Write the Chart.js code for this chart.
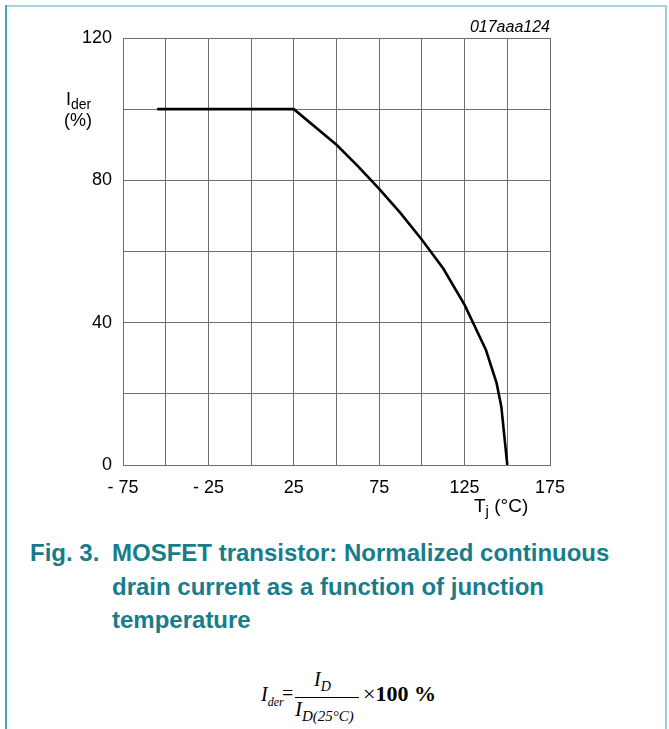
<!DOCTYPE html>
<html><head><meta charset="utf-8">
<script src="https://cdn.jsdelivr.net/npm/chart.js@4/dist/chart.umd.min.js"></script>
<style>
html,body{margin:0;padding:0;background:#fff;}
#page{position:relative;width:669px;height:729px;overflow:hidden;font-family:"Liberation Sans",Arial,sans-serif;color:#000;}
#chartbox{position:absolute;left:0;top:0;width:669px;height:500px;}
.abs{position:absolute;white-space:nowrap;line-height:1;}
.bar{position:absolute;}
.cap{position:absolute;white-space:nowrap;line-height:1;font-weight:bold;font-size:24px;color:#177d8b;}
.ser{font-family:"Liberation Serif","Times New Roman",serif;}
</style>
</head><body>
<div id="page">
  <div class="bar" style="left:5px;top:5px;width:662px;height:2px;background:#a6d5d9;"></div>
  <div class="bar" style="left:5px;top:5px;width:2px;height:724px;background:#4aa6b0;"></div>
  <div class="bar" style="left:665px;top:5px;width:2px;height:724px;background:#9ccfd3;"></div>
  <div id="chartbox"><canvas id="c"></canvas></div>

  <div class="abs" style="right:119px;top:19px;font-size:16px;font-style:italic;">017aaa124</div>
  <div class="abs" style="left:66px;top:90px;font-size:18px;">I<span style="font-size:14px;position:relative;top:4px;">der</span></div>
  <div class="abs" style="left:64px;top:111px;font-size:18px;">(%)</div>
  <div class="abs" style="left:474px;top:496px;font-size:19px;">T<span style="font-size:15px;position:relative;top:4px;">j</span> (°C)</div>

  <div class="cap" style="left:30px;top:541px;">Fig. 3.</div>
  <div class="cap" style="left:112px;top:541px;">MOSFET transistor: Normalized continuous</div>
  <div class="cap" style="left:112px;top:575px;">drain current as a function of junction</div>
  <div class="cap" style="left:112px;top:608px;">temperature</div>

  <div class="abs ser" style="left:261px;top:684px;font-size:20px;font-style:italic;">I<span style="font-size:12px;position:relative;top:5px;">der</span></div>
  <div class="abs ser" style="left:282px;top:683px;font-size:20px;">=</div>
  <div class="abs ser" style="left:314px;top:669px;font-size:20px;font-style:italic;">I<span style="font-size:14px;position:relative;top:5px;">D</span></div>
  <div class="bar" style="left:295px;top:697px;width:64px;height:1px;background:#000;"></div>
  <div class="abs ser" style="left:295px;top:699px;font-size:21px;font-style:italic;">I<span style="font-size:15px;position:relative;top:5px;">D(25°C)</span></div>
  <div class="abs ser" style="left:363px;top:683px;font-size:22px;">×<b>100 %</b></div>
</div>
<script>
const tempC   = [-55, 25, 50, 62.5, 75, 87.5, 100, 112.5, 125, 137.5, 143.75, 146.5, 150];
const iderPct = [100, 100, 90, 84, 77.6, 70.8, 63.3, 55.2, 45, 32.3, 23, 16.4, 0];
const xTickValues = [-75, -25, 25, 75, 125, 175];
const xTickLabels = ['- 75', '- 25', '25', '75', '125', '175'];
const yTickValues = [0, 40, 80, 120];
const yTickLabels = ['0', '40', '80', '120'];

const pts = tempC.map((t, i) => ({x: t, y: iderPct[i]}));
const gridCol = '#6e6e6e';
const tickFont = {family: '"Liberation Sans", Arial, sans-serif', size: 18};

new Chart(document.getElementById('c'), {
  type: 'line',
  data: {datasets: [{data: pts, borderColor: '#000', borderWidth: 2.6, pointRadius: 0, tension: 0, fill: false}]},
  options: {
    responsive: true, maintainAspectRatio: false, animation: false,
    layout: {padding: {left: 0, top: 38, right: 119, bottom: 0}},
    plugins: {legend: {display: false}, tooltip: {enabled: false}},
    scales: {
      x: {
        type: 'linear', min: -75, max: 175,
        afterFit: s => { s.height = 35; },
        ticks: {stepSize: 25, autoSkip: false, maxRotation: 0, color: '#000', font: tickFont, padding: 12,
          callback: v => { const i = xTickValues.indexOf(v); return i >= 0 ? xTickLabels[i] : ''; }},
        grid: {color: gridCol, lineWidth: 1, drawTicks: false},
        border: {color: gridCol, width: 1}
      },
      y: {
        min: 0, max: 120,
        afterFit: s => { s.width = 123; },
        ticks: {stepSize: 20, autoSkip: false, color: '#000', font: tickFont, padding: 11,
          callback: v => { const i = yTickValues.indexOf(v); return i >= 0 ? yTickLabels[i] : ''; }},
        grid: {color: gridCol, lineWidth: 1, drawTicks: false},
        border: {color: gridCol, width: 1}
      }
    }
  }
});
</script>
</body></html>
